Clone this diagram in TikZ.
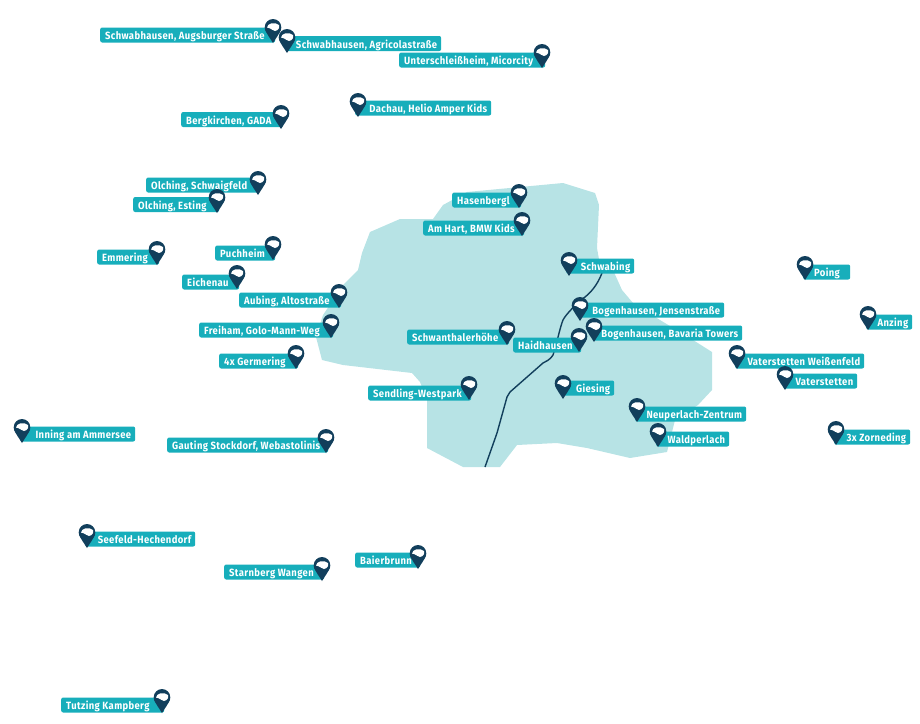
\documentclass[tikz,border=0pt]{standalone}
\usepackage{fontspec}
\setmainfont{Fira Sans}[LetterSpace=3.5,FakeStretch=0.9]
\definecolor{sitecolor}{HTML}{17AEBB}
\definecolor{pincolor}{HTML}{123F5C}
\definecolor{areacolor}{HTML}{B7E3E5}
\tikzset{
  sitebox/.style={fill=sitecolor, text=white, rounded corners=2pt, inner xsep=0pt, inner ysep=0pt,
    minimum height=15pt, text height=9pt, text depth=0pt, anchor=west, font=\bfseries\fontsize{10.5}{10.5}\selectfont},
  mappin/.pic={
    \fill[pincolor] (0,-15.7) circle (8.3);
    \fill[pincolor] (0,0) .. controls (-3,-5) and (-7,-10) .. (-8.1,-14) -- (8.1,-14) .. controls (7,-10) and (3,-5) .. (0,0);
    \fill[white] (-6,-15.5) .. controls (-5.5,-20) and (2,-21.5) .. (6,-18) .. controls (7,-15) and (5,-12.5) .. (2,-12) .. controls (0,-11.8) and (-1,-14.5) .. (-6,-15.5);
  }
}
% label with its pin on the right (text from the left edge), or on the left (text up to the right edge)
\newcommand{\siteR}[5]{\node[sitebox] (#1) at (#2,#3) {\makebox[#4pt][l]{\hspace*{5pt}#5}};}
\newcommand{\siteL}[5]{\node[sitebox] (#1) at (#2,#3) {\makebox[#4pt][r]{#5\hspace*{4pt}}};}
\begin{document}
\begin{tikzpicture}[x=1pt,y=-1pt]
    \useasboundingbox (0,0) rectangle (920,723);

    % City area
    \fill[areacolor] (370,232) -- (400,219) -- (433,219) -- (443,205) -- (467,192) -- (563,183)
        -- (595,193) -- (599,205) -- (597,248) -- (600,265) -- (613,270) -- (622,290) -- (633,303)
        -- (660,320) -- (693,340) -- (712,352) -- (712,390) -- (698,405) -- (675,420) -- (667,452)
        -- (630,458) -- (587,448) -- (557,443) -- (517,445) -- (500,467) -- (463,467) -- (427,448)
        -- (427,400) -- (420,382) -- (412,373) -- (343,365) -- (322,360) -- (316,337) -- (323,315)
        -- (343,285) -- (358,270) -- (362,253) -- cycle;

    % River
    \coordinate (riverTop) at (602,273);
    \coordinate (riverEnd) at (485,467);
    \draw[pincolor, line width=1.4pt] (riverTop) .. controls (597,286) and (590,293) .. (585,297)
        .. controls (578,302) and (566,314) .. (563,320) .. controls (560,327) and (556,347) .. (553,355)
        .. controls (549,361) and (546,361) .. (543,363) -- (510,392) -- (507,397) -- (497,433) -- (riverEnd);

    % Labels
    \siteR{augsburger}{100}{35}{175}{Schwabhausen, Augsburger Straße}
    \siteL{agricola}{285}{43.5}{156}{Schwabhausen, Agricolastraße}
    \siteR{micorcity}{399}{60}{146}{Unterschleißheim, Micorcity}
    \siteL{dachau}{355}{108}{136}{Dachau, Helio Amper Kids}
    \siteR{bergkirchen}{181}{119.5}{102}{Bergkirchen, GADA}
    \siteR{schwaigfeld}{146}{185}{114}{Olching, Schwaigfeld}
    \siteR{esting}{133}{204.5}{86}{Olching, Esting}
    \siteR{emmering}{97}{257}{62}{Emmering}
    \siteR{puchheim}{215}{253}{60}{Puchheim}
    \siteR{eichenau}{182}{282}{57}{Eichenau}
    \siteR{aubing}{239}{300}{102}{Aubing, Altostraße}
    \siteR{freiham}{199}{330}{134}{Freiham, Golo-Mann-Weg}
    \siteR{germering}{219}{361}{79}{4x Germering}
    \siteR{hasenbergl}{452}{200}{69}{Hasenbergl}
    \siteR{amhart}{423}{228}{101}{Am Hart, BMW Kids}
    \siteL{schwabing}{566}{266}{68}{Schwabing}
    \siteL{jensen}{578}{310}{146}{Bogenhausen, Jensenstraße}
    \siteL{bavaria}{592}{333}{150}{Bogenhausen, Bavaria Towers}
    \siteR{schwanthaler}{407}{337}{102}{Schwanthalerhöhe}
    \siteR{haidhausen}{513}{345}{68}{Haidhausen}
    \siteR{sendling}{368}{393}{103}{Sendling-Westpark}
    \siteL{giesing}{561}{388}{53}{Giesing}
    \siteL{neuperlach}{635}{414}{111}{Neuperlach-Zentrum}
    \siteL{waldperlach}{656}{439}{73}{Waldperlach}
    \siteR{poing}{803}{272}{47}{\hspace*{6pt}Poing}
    \siteL{anzing}{866}{322}{46}{Anzing}
    \siteL{weissenfeld}{735}{361}{129}{Vaterstetten Weißenfeld}
    \siteL{vaterstetten}{783}{381}{74}{Vaterstetten}
    \siteL{zorneding}{834}{437}{76}{3x Zorneding}
    \siteL{inning}{20}{434}{115}{Inning am Ammersee}
    \siteR{gauting}{167}{445}{161}{Gauting Stockdorf, Webastolinis}
    \siteL{seefeld}{85}{539}{110}{Seefeld-Hechendorf}
    \siteR{starnberg}{224}{572}{100}{Starnberg Wangen}
    \siteR{baierbrunn}{355}{560}{65}{Baierbrunn}
    \siteR{tutzing}{61}{705}{103}{Tutzing Kampberg}

    % Pins
    \foreach \px/\py in {273/43, 287/53, 542/68, 358/117, 281/129, 258/195, 217/213, 157/265, 273/260,
        237/289, 339/308, 331/338, 296/369, 519/208, 522/236, 569/276, 580/321, 594/342, 507/345, 579/352,
        469/400, 563/399, 637/422, 658/447, 805/280, 868/330, 737/369, 785/390, 836/445, 22/443, 326/453,
        87/548, 322/581, 418/569, 162/713}
        \pic at (\px,\py) {mappin};
\end{tikzpicture}
\end{document}
